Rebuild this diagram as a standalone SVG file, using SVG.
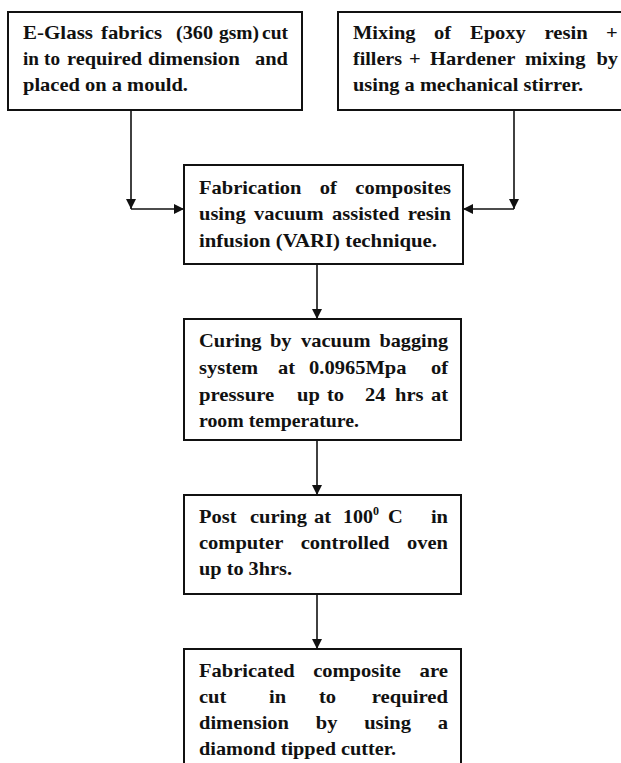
<svg xmlns="http://www.w3.org/2000/svg" width="621" height="763" viewBox="0 0 621 763">
<defs>
<style>
.box{fill:#fff;stroke:#111;stroke-width:2}
.ln{fill:none;stroke:#111;stroke-width:1.6}
</style>
<marker id="ah" viewBox="0 0 10 10" refX="10" refY="5" markerWidth="10" markerHeight="10" markerUnits="userSpaceOnUse" orient="auto">
<path d="M0,0 L10,5 L0,10 Z" fill="#111"/>
</marker>
</defs>
<rect width="621" height="763" fill="#fff"/>
<g font-family="Liberation Serif, Times New Roman, serif" font-weight="bold" font-size="19" fill="#111">
<g id="node1">
<rect class="box" x="8" y="12" width="294" height="98"/>
<text>
<tspan x="23" y="39" textLength="70" lengthAdjust="spacingAndGlyphs">E-Glass</tspan><tspan x="101" y="39" textLength="61" lengthAdjust="spacingAndGlyphs">fabrics</tspan><tspan x="176" y="39" textLength="37" lengthAdjust="spacingAndGlyphs">(360</tspan><tspan x="219" y="39" textLength="40" lengthAdjust="spacingAndGlyphs">gsm)</tspan><tspan x="262" y="39" textLength="26" lengthAdjust="spacingAndGlyphs">cut</tspan>
<tspan x="23" y="65" textLength="16" lengthAdjust="spacingAndGlyphs">in</tspan><tspan x="44" y="65" textLength="16" lengthAdjust="spacingAndGlyphs">to</tspan><tspan x="67" y="65" textLength="75" lengthAdjust="spacingAndGlyphs">required</tspan><tspan x="148" y="65" textLength="92" lengthAdjust="spacingAndGlyphs">dimension</tspan><tspan x="255" y="65" textLength="33" lengthAdjust="spacingAndGlyphs">and</tspan>
</text>
<text x="23" y="91" textLength="165" lengthAdjust="spacingAndGlyphs">placed on a mould.</text>
</g>

<g id="node2">
<rect class="box" x="338" y="12" width="292" height="98"/>
<text>
<tspan x="353" y="39" textLength="62.6" lengthAdjust="spacingAndGlyphs">Mixing</tspan><tspan x="434" y="39" textLength="17.1" lengthAdjust="spacingAndGlyphs">of</tspan><tspan x="470" y="39" textLength="55.8" lengthAdjust="spacingAndGlyphs">Epoxy</tspan><tspan x="544.5" y="39" textLength="43.3" lengthAdjust="spacingAndGlyphs">resin</tspan><tspan x="606" y="39" textLength="11.7" lengthAdjust="spacingAndGlyphs">+</tspan>
<tspan x="353" y="65" textLength="49" lengthAdjust="spacingAndGlyphs">fillers</tspan><tspan x="409" y="65" textLength="11.7" lengthAdjust="spacingAndGlyphs">+</tspan><tspan x="430" y="65" textLength="85.4" lengthAdjust="spacingAndGlyphs">Hardener</tspan><tspan x="525" y="65" textLength="60.4" lengthAdjust="spacingAndGlyphs">mixing</tspan><tspan x="596.4" y="65" textLength="21.6" lengthAdjust="spacingAndGlyphs">by</tspan>
</text>
<text x="353" y="91" textLength="230" lengthAdjust="spacingAndGlyphs">using a mechanical stirrer.</text>
</g>

<g id="node3">
<rect class="box" x="184" y="165" width="279" height="99"/>
<text>
<tspan x="199" y="194" textLength="102.5" lengthAdjust="spacingAndGlyphs">Fabrication</tspan><tspan x="319.8" y="194" textLength="17.1" lengthAdjust="spacingAndGlyphs">of</tspan><tspan x="355.3" y="194" textLength="95.7" lengthAdjust="spacingAndGlyphs">composites</tspan>
<tspan x="199" y="220" textLength="46.7" lengthAdjust="spacingAndGlyphs">using</tspan><tspan x="254.1" y="220" textLength="69.5" lengthAdjust="spacingAndGlyphs">vacuum</tspan><tspan x="332.1" y="220" textLength="67.2" lengthAdjust="spacingAndGlyphs">assisted</tspan><tspan x="407.7" y="220" textLength="43.3" lengthAdjust="spacingAndGlyphs">resin</tspan>
</text>
<text x="199" y="247" textLength="238" lengthAdjust="spacingAndGlyphs">infusion (VARI) technique.</text>
</g>

<g id="node4">
<rect class="box" x="184" y="319" width="277" height="121"/>
<text>
<tspan x="199" y="347" textLength="62.6" lengthAdjust="spacingAndGlyphs">Curing</tspan><tspan x="270" y="347" textLength="21.6" lengthAdjust="spacingAndGlyphs">by</tspan><tspan x="301" y="347" textLength="69.5" lengthAdjust="spacingAndGlyphs">vacuum</tspan><tspan x="379.5" y="347" textLength="68.5" lengthAdjust="spacingAndGlyphs">bagging</tspan>
<tspan x="199" y="374" textLength="59.2" lengthAdjust="spacingAndGlyphs">system</tspan><tspan x="278" y="374" textLength="17.1" lengthAdjust="spacingAndGlyphs">at</tspan><tspan x="309" y="374" textLength="97.4" lengthAdjust="spacingAndGlyphs">0.0965Mpa</tspan><tspan x="430.9" y="374" textLength="17.1" lengthAdjust="spacingAndGlyphs">of</tspan>
<tspan x="199" y="401" textLength="75.2" lengthAdjust="spacingAndGlyphs">pressure</tspan><tspan x="297" y="401" textLength="22.8" lengthAdjust="spacingAndGlyphs">up</tspan><tspan x="327" y="401" textLength="17.1" lengthAdjust="spacingAndGlyphs">to</tspan><tspan x="365" y="401" textLength="20.5" lengthAdjust="spacingAndGlyphs">24</tspan><tspan x="395" y="401" textLength="28.5" lengthAdjust="spacingAndGlyphs">hrs</tspan><tspan x="430.9" y="401" textLength="17.1" lengthAdjust="spacingAndGlyphs">at</tspan>
</text>
<text x="199" y="427" textLength="160" lengthAdjust="spacingAndGlyphs">room temperature.</text>
</g>

<g id="node5">
<rect class="box" x="184" y="495" width="277" height="99"/>
<text>
<tspan x="199" y="523" textLength="37.6" lengthAdjust="spacingAndGlyphs">Post</tspan><tspan x="250" y="523" textLength="56.9" lengthAdjust="spacingAndGlyphs">curing</tspan><tspan x="314" y="523" textLength="17.1" lengthAdjust="spacingAndGlyphs">at</tspan><tspan x="343" y="523" textLength="30" lengthAdjust="spacingAndGlyphs">100</tspan><tspan font-size="12" dy="-8">0</tspan><tspan x="388" y="523" textLength="14.8" lengthAdjust="spacingAndGlyphs">C</tspan><tspan x="430.9" y="523" textLength="17.1" lengthAdjust="spacingAndGlyphs">in</tspan>
<tspan x="199" y="549" textLength="84.3" lengthAdjust="spacingAndGlyphs">computer</tspan><tspan x="300.7" y="549" textLength="88.8" lengthAdjust="spacingAndGlyphs">controlled</tspan><tspan x="407" y="549" textLength="41" lengthAdjust="spacingAndGlyphs">oven</tspan>
</text>
<text x="199" y="575" textLength="93" lengthAdjust="spacingAndGlyphs">up to 3hrs.</text>
</g>

<g id="node6">
<rect class="box" x="184" y="649" width="277" height="125"/>
<text>
<tspan x="199" y="677" textLength="95.7" lengthAdjust="spacingAndGlyphs">Fabricated</tspan><tspan x="313.2" y="677" textLength="87.7" lengthAdjust="spacingAndGlyphs">composite</tspan><tspan x="419.5" y="677" textLength="28.5" lengthAdjust="spacingAndGlyphs">are</tspan>
<tspan x="199" y="703" textLength="27.3" lengthAdjust="spacingAndGlyphs">cut</tspan><tspan x="269" y="703" textLength="17.1" lengthAdjust="spacingAndGlyphs">in</tspan><tspan x="319" y="703" textLength="17.1" lengthAdjust="spacingAndGlyphs">to</tspan><tspan x="371.7" y="703" textLength="76.3" lengthAdjust="spacingAndGlyphs">required</tspan>
<tspan x="199" y="729" textLength="90" lengthAdjust="spacingAndGlyphs">dimension</tspan><tspan x="315.8" y="729" textLength="21.6" lengthAdjust="spacingAndGlyphs">by</tspan><tspan x="364.2" y="729" textLength="46.7" lengthAdjust="spacingAndGlyphs">using</tspan><tspan x="437.7" y="729" textLength="10.3" lengthAdjust="spacingAndGlyphs">a</tspan>
</text>
<text x="199" y="755" textLength="197" lengthAdjust="spacingAndGlyphs">diamond tipped cutter.</text>
</g>
</g>
<g id="connectors">
<path class="ln" d="M131,110 V209" marker-end="url(#ah)"/>
<path class="ln" d="M131,209 H184" marker-end="url(#ah)"/>
<path class="ln" d="M514,110 V209" marker-end="url(#ah)"/>
<path class="ln" d="M514,209 H463" marker-end="url(#ah)"/>
<path class="ln" d="M317,264 V319" marker-end="url(#ah)"/>
<path class="ln" d="M317,440 V495" marker-end="url(#ah)"/>
<path class="ln" d="M317,594 V649" marker-end="url(#ah)"/>
</g>
</svg>
